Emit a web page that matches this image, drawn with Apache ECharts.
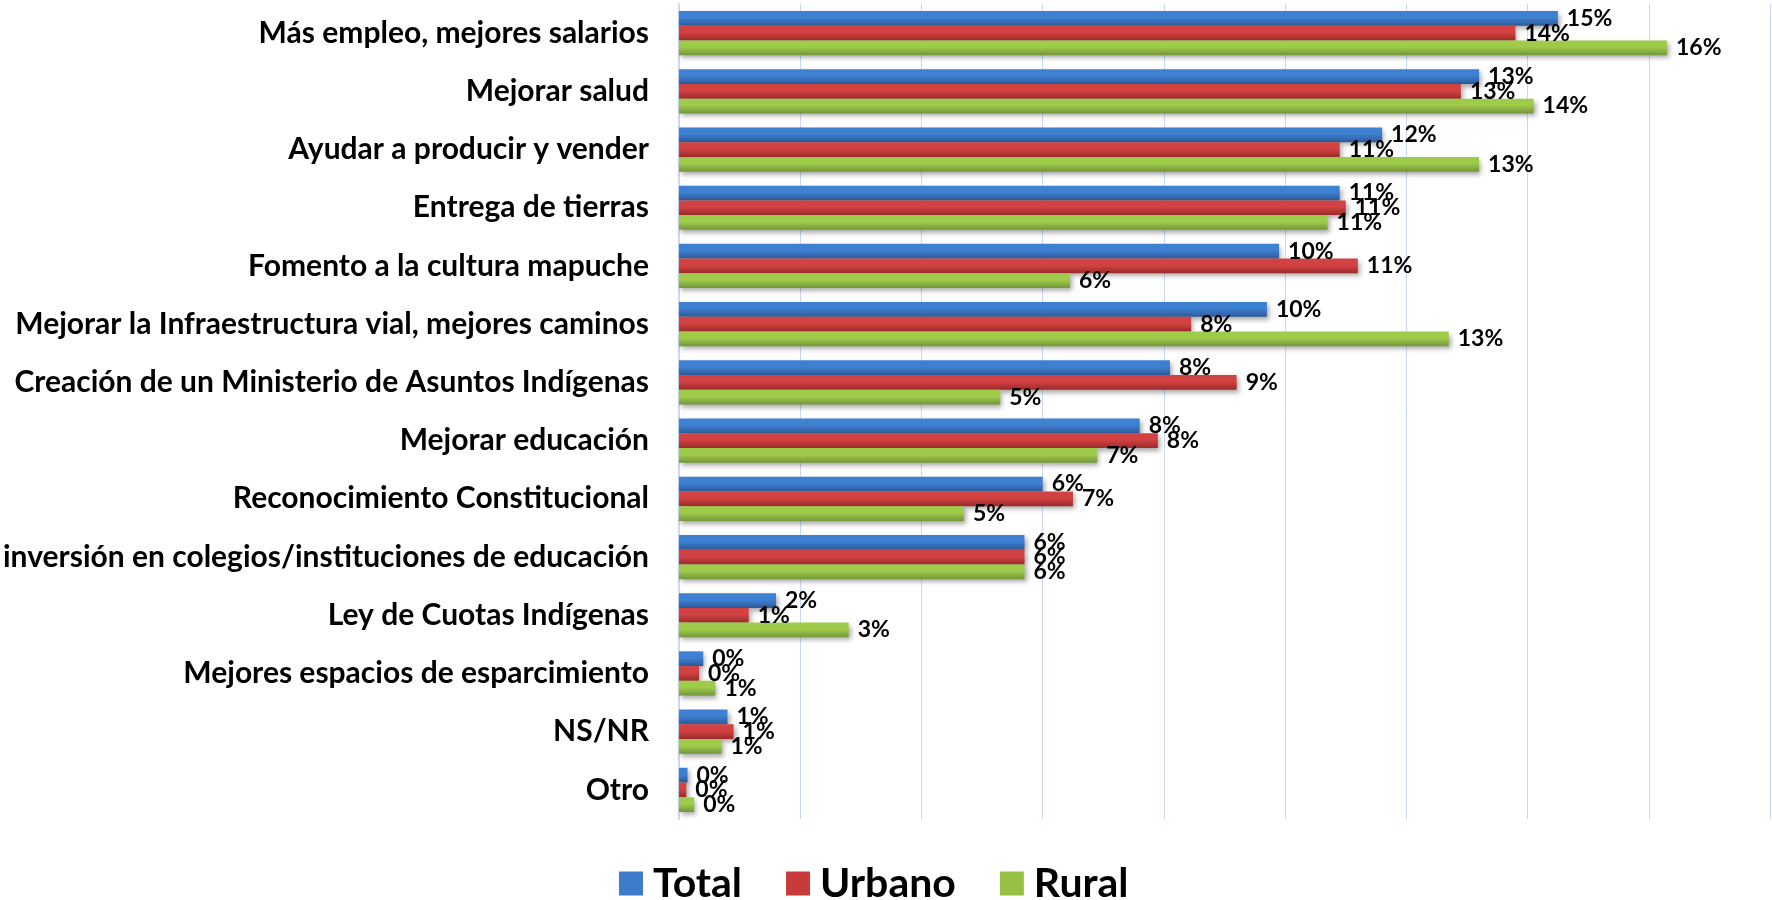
<!DOCTYPE html>
<html>
<head>
<meta charset="utf-8">
<script src="https://cdn.jsdelivr.net/npm/echarts@6/dist/echarts.min.js"></script>
<style>
  html, body { margin: 0; padding: 0; background: #fff; }
  #chart { width: 1772px; height: 900px; }
</style>
</head>
<body>
<div id="chart"></div>
<script>
// categorías (de arriba hacia abajo)
const categories = [
  'Más empleo, mejores salarios',
  'Mejorar salud',
  'Ayudar a producir y vender',
  'Entrega de tierras',
  'Fomento a la cultura mapuche',
  'Mejorar la Infraestructura vial, mejores caminos',
  'Creación de un Ministerio de Asuntos Indígenas',
  'Mejorar educación',
  'Reconocimiento Constitucional',
  'inversión en colegios/instituciones de educación',
  'Ley de Cuotas Indígenas',
  'Mejores espacios de esparcimiento',
  'NS/NR',
  'Otro'
];
const seriesNames = ['Total', 'Urbano', 'Rural'];
// porcentajes
const total  = [14.5, 13.2, 11.6, 10.9, 9.9, 9.7, 8.1, 7.6, 6.0, 5.7, 1.6, 0.4, 0.8, 0.14];
const urbano = [13.8, 12.9, 10.9, 11.0, 11.2, 8.45, 9.2, 7.9, 6.5, 5.7, 1.15, 0.33, 0.9, 0.12];
const rural  = [16.3, 14.1, 13.2, 10.7, 6.45, 12.7, 5.3, 6.9, 4.7, 5.7, 2.8, 0.6, 0.7, 0.25];

const FONT = 'Lato';

function grad(top, bottom) {
  return new echarts.graphic.LinearGradient(0, 0, 0, 1, [
    {offset: 0, color: top},
    {offset: 0.45, color: top},
    {offset: 1, color: bottom}
  ]);
}
const colors = [
  grad('#3e80d2', '#2b5a98'),
  grad('#d24242', '#9c2a2a'),
  grad('#9fcb4b', '#74963a')
];
const legendColors = ['#3c7ccb', '#c83b3b', '#96c145'];

function makeSeries(name, data, i) {
  return {
    name: name,
    type: 'bar',
    data: data,
    barGap: '0%',
    barCategoryGap: '24%',
    itemStyle: {
      color: colors[i],
      shadowColor: 'rgba(0,0,0,0.35)',
      shadowBlur: 5,
      shadowOffsetX: 2,
      shadowOffsetY: 3
    },
    label: {
      show: true,
      position: 'right',
      distance: 9,
      fontFamily: FONT,
      fontWeight: 'bold',
      fontSize: 23,
      color: '#000',
      formatter: function (p) { return Math.round(p.value) + '%'; }
    }
  };
}

let myChart = echarts.init(document.getElementById('chart'));
let option = {
  animation: false,
  grid: {
    left: 679,
    right: 2,
    top: 4,
    bottom: 81
  },
  legend: {
    bottom: -9,
    left: 614,
    itemWidth: 24,
    itemHeight: 24,
    itemGap: 44,
    icon: 'rect',
    textStyle: {
      fontFamily: FONT,
      fontWeight: 'bold',
      fontSize: 41,
      color: '#000',
      padding: [0, 0, 0, 5]
    },
    data: seriesNames.map((n, i) => ({name: n, itemStyle: {color: legendColors[i]}}))
  },
  xAxis: {
    type: 'value',
    min: 0,
    max: 18,
    interval: 2,
    axisLabel: {show: false},
    axisTick: {show: false},
    axisLine: {show: false},
    splitLine: {lineStyle: {color: '#c9daf0', width: 1}}
  },
  yAxis: {
    type: 'category',
    inverse: true,
    data: categories,
    axisTick: {show: false},
    axisLine: {show: true, lineStyle: {color: '#c9daf0', width: 2}},
    axisLabel: {
      margin: 30,
      fontFamily: FONT,
      fontWeight: 'bold',
      fontSize: 30,
      color: '#000'
    }
  },
  series: [
    makeSeries(seriesNames[0], total, 0),
    makeSeries(seriesNames[1], urbano, 1),
    makeSeries(seriesNames[2], rural, 2)
  ]
};
myChart.setOption(option);
</script>
</body>
</html>
